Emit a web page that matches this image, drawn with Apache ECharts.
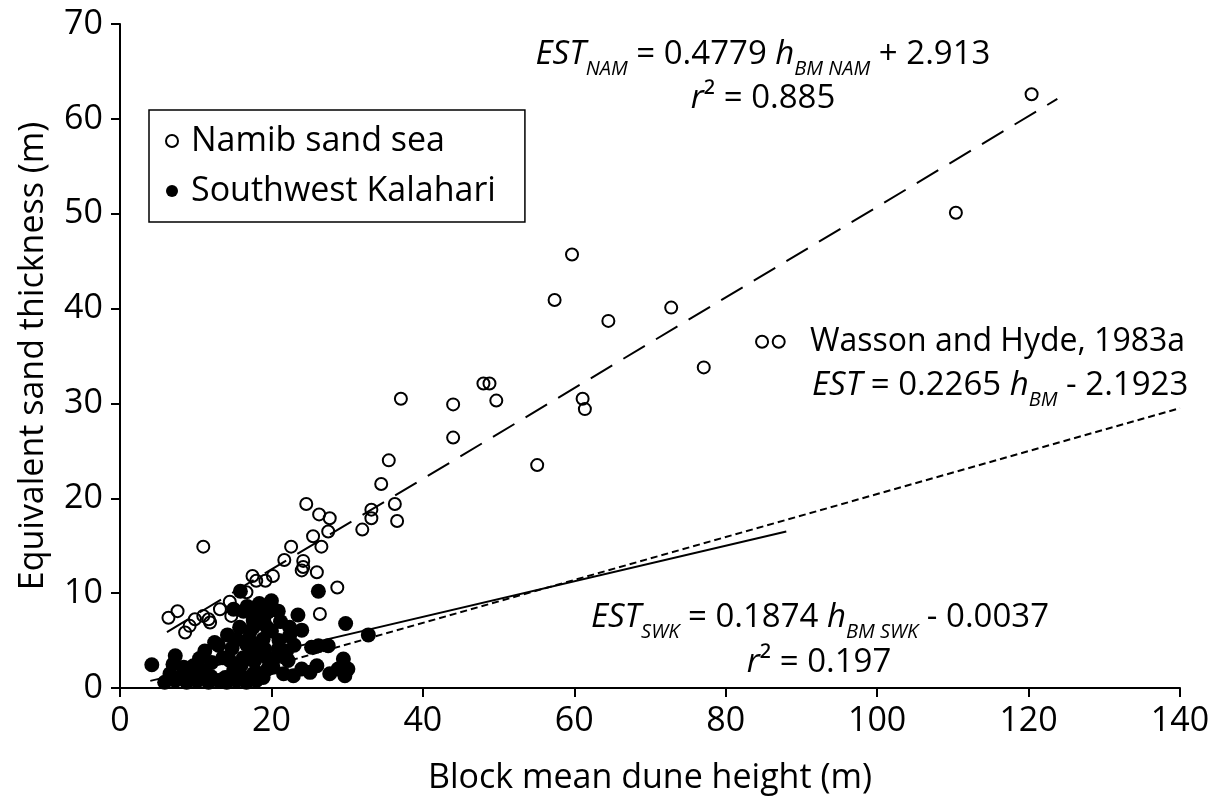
<!DOCTYPE html>
<html>
<head>
<meta charset="utf-8">
<script src="https://cdn.jsdelivr.net/npm/echarts@6/dist/echarts.min.js"></script>
<style>html,body{margin:0;padding:0;background:#fff}#c{width:1222px;height:800px}</style>
</head>
<body>
<div id="c"></div>
<script>
// Namib sand sea (open circles): [block mean dune height, equivalent sand thickness]
const namib = [
  [6.4,7.4],[7.6,8.1],[8.6,5.85],[9.2,6.55],[9.9,7.25],[11.0,7.6],[11.7,7.25],[11.9,6.9],[11.0,14.9],
  [13.2,8.3],[14.5,9.1],[14.7,7.6],[16.7,10.1],[17.5,11.8],[18.0,11.3],[19.2,11.3],[20.2,11.8],
  [21.7,13.5],[22.6,14.9],[24.2,13.4],[24.2,12.75],[24.0,12.4],[26.0,12.2],[24.6,19.4],[26.3,18.3],
  [27.7,17.9],[27.5,16.5],[25.5,16.0],[26.6,14.9],[26.4,7.8],[28.7,10.6],
  [32.0,16.7],[33.2,17.9],[33.2,18.8],[34.5,21.5],[35.5,24.0],[36.3,19.4],[36.6,17.6],[37.1,30.5],
  [44.0,29.9],[44.0,26.4],[48.0,32.1],[48.8,32.1],[49.7,30.3],[55.1,23.5],[57.4,40.9],[59.7,45.7],
  [61.1,30.5],[61.4,29.4],[64.5,38.7],[72.8,40.1],[77.1,33.8],[84.8,36.5],[87.0,36.5],[110.4,50.1],[120.4,62.6]
];
// Southwest Kalahari (filled circles)
const kalahari = [
  [4.2,2.45],[7.3,3.4],[7.0,2.5],[8.4,2.2],[9.7,2.35],[11.2,3.9],[12.5,4.8],[12.1,2.7],[13.6,3.2],
  [15.4,5.15],[15.8,6.4],[15.9,10.2],[17.2,6.0],[17.6,7.1],[15.0,8.3],[16.3,8.1],
  [16.7,4.6],[17.6,3.9],[17.8,2.9],[16.3,3.2],[14.5,2.9],[15.0,1.8],[16.3,1.1],[17.6,1.5],[13.9,1.1],
  [5.9,0.6],[7.3,0.8],[8.8,0.6],[10.1,0.8],[11.7,0.6],[13.0,0.8],[14.1,0.6],[15.4,0.8],[16.7,0.6],[18.0,0.8],
  [6.6,1.5],[8.4,1.5],[10.1,1.3],[11.2,1.8],
  [26.2,10.2],[20.0,9.2],[20.9,8.1],[23.5,7.7],[29.8,6.8],[22.4,6.4],[24.0,6.1],[22.4,5.5],[32.8,5.6],
  [18.0,7.8],[19.4,6.4],[20.0,6.0],[18.9,5.15],[17.6,6.4],[20.9,4.1],[22.0,3.9],[20.5,3.2],[22.2,2.9],
  [25.3,4.3],[26.2,4.45],[27.5,4.45],[26.0,2.35],[25.1,1.65],[29.5,3.05],[28.8,2.0],[30.1,2.0],[27.7,1.5],
  [29.7,1.3],[20.2,2.2],[21.6,1.5],[22.9,1.3],[18.0,1.65],[18.9,1.1],[17.6,2.9],[18.5,3.6],[17.8,4.3],[19.1,4.1],
  [16.8,8.6],[18.4,8.9],[19.5,8.0],[17.0,5.2],[14.2,5.6],[13.0,4.5],[14.8,4.2],[16.0,2.4],[19.6,3.0],
  [21.0,5.0],[23.0,4.5],[19.5,2.0],[12.0,1.2],[10.5,3.1],[9.0,1.0],[24.0,2.0],[21.2,7.0],[19.0,7.0]
];
// Fitted / reference lines (endpoints)
const namFit = [[6.2,5.9],[123.8,62.1]];
const swkFit = [[4.0,0.75],[88.0,16.5]];
const wassonFit = [[10.0,0.07],[140.0,29.5]];
const xTicks = [0,20,40,60,80,100,120,140];
const yTicks = [0,10,20,30,40,50,60,70];

const F = 'Open Sans';
const FS = 34;   // axes & legend
const FA = 33;   // annotations
const rich = {
  n: {fontFamily: F, fontSize: FA, color: '#000', lineHeight: 44, verticalAlign: 'top'},
  w: {fontFamily: F, fontSize: 32, color: '#000', lineHeight: 44, verticalAlign: 'top'},
  i: {fontFamily: F, fontSize: FA, fontStyle: 'italic', color: '#000', lineHeight: 44, verticalAlign: 'top'},
  s: {fontFamily: F, fontSize: 20, fontStyle: 'italic', color: '#000', lineHeight: 20, verticalAlign: 'top', padding: [21,0,0,0]}
};
function txt(text, x, y, align) {
  return {type: 'text', x: x, y: y, z: 10,
    style: {text: text, rich: rich, align: align, verticalAlign: 'top', fontFamily: F, fontSize: FA}};
}

const chart = echarts.init(document.getElementById('c'), null, {renderer: 'canvas'});
chart.setOption({
  animation: false,
  backgroundColor: '#fff',
  grid: {left: 120, right: 42, top: 24, bottom: 109},
  legend: {
    left: 149, top: 110, orient: 'vertical',
    padding: [11, 29, 11, 16], itemGap: 10, itemWidth: 12, itemHeight: 12,
    borderColor: '#000', borderWidth: 1.5,
    textStyle: {fontFamily: F, fontSize: FS, color: '#000', padding: [0,0,0,8], lineHeight: 40},
    data: ['Namib sand sea', 'Southwest Kalahari']
  },
  xAxis: {
    type: 'value', min: 0, max: 140, interval: 20,
    name: 'Block mean dune height (m)', nameLocation: 'middle', nameGap: 73,
    nameTextStyle: {fontFamily: F, fontSize: FS, color: '#000'},
    axisLine: {lineStyle: {color: '#000', width: 2}},
    axisTick: {show: true, length: 9, lineStyle: {color: '#000', width: 2}},
    axisLabel: {fontFamily: F, fontSize: FS, color: '#000', margin: 16,
      formatter: v => xTicks.includes(v) ? String(v) : ''},
    splitLine: {show: false}
  },
  yAxis: {
    type: 'value', min: 0, max: 70, interval: 10,
    name: 'Equivalent sand thickness (m)', nameLocation: 'middle', nameGap: 70,
    nameTextStyle: {fontFamily: F, fontSize: FS, color: '#000'},
    axisLine: {show: true, lineStyle: {color: '#000', width: 2}},
    axisTick: {show: true, length: 9, lineStyle: {color: '#000', width: 2}},
    axisLabel: {fontFamily: F, fontSize: FS, color: '#000', margin: 17,
      formatter: v => yTicks.includes(v) ? String(v) : ''},
    splitLine: {show: false}
  },
  series: [
    {name: 'Southwest Kalahari', type: 'scatter', data: kalahari, symbol: 'circle', symbolSize: 15, z: 2,
      itemStyle: {color: '#000', borderColor: '#000', borderWidth: 0, opacity: 1}},
    {name: 'Namib sand sea', type: 'scatter', data: namib, symbol: 'circle', symbolSize: 12, z: 3,
      itemStyle: {color: 'rgba(255,255,255,0)', borderColor: '#000', borderWidth: 2, opacity: 1}},
    {name: 'namFit', type: 'line', data: namFit, symbol: 'none', z: 4, silent: true,
      lineStyle: {color: '#000', width: 2, type: [25, 13]}},
    {name: 'swkFit', type: 'line', data: swkFit, symbol: 'none', z: 4, silent: true,
      lineStyle: {color: '#000', width: 2, type: 'solid'}},
    {name: 'wassonFit', type: 'line', data: wassonFit, symbol: 'none', z: 4, silent: true,
      lineStyle: {color: '#000', width: 2, type: [7, 4]}}
  ],
  graphic: [
    txt('{i|EST}{s|NAM}{n| = 0.4779 }{i|h}{s|BM NAM}{n| + 2.913}', 763, 38, 'center'),
    txt('{i|r}{n|² = 0.885}', 763, 82, 'center'),
    txt('{w|Wasson and Hyde, 1983a}', 810, 326, 'left'),
    txt('{i|EST}{n| = 0.2265 }{i|h}{s|BM}{n| - 2.1923}', 812, 369, 'left'),
    txt('{i|EST}{s|SWK}{n| = 0.1874 }{i|h}{s|BM SWK}{n| - 0.0037}', 820, 601, 'center'),
    txt('{i|r}{n|² = 0.197}', 819, 646, 'center')
  ]
});
</script>
</body>
</html>
